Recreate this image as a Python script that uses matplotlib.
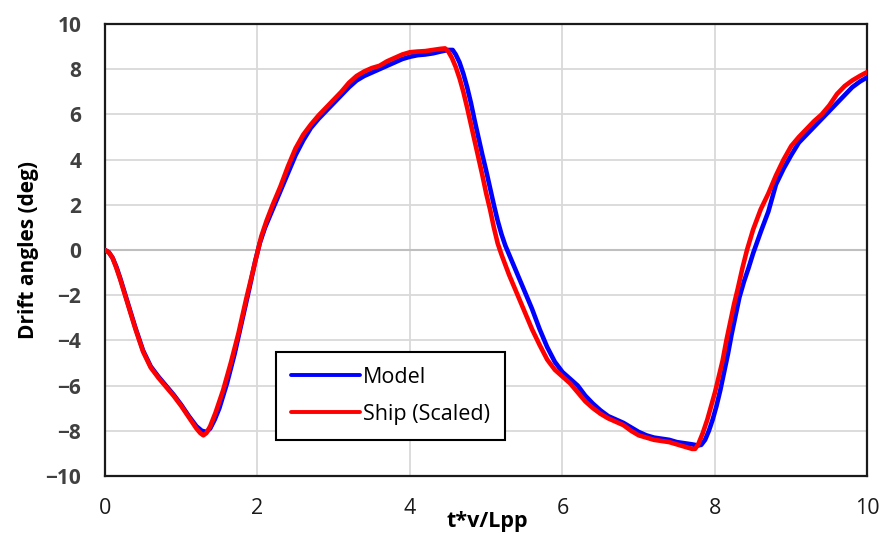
import matplotlib
matplotlib.use('Agg')
import matplotlib.pyplot as plt

# Drift angle time histories (x in t*v/Lpp, y in deg)
model_x = [0, 0.05, 0.1, 0.15, 0.2, 0.3, 0.4, 0.5, 0.6, 0.7, 0.8, 0.9, 1.0,
           1.1, 1.2, 1.27, 1.33, 1.38, 1.44, 1.5, 1.6, 1.7, 1.8, 1.9, 1.97,
           2.03, 2.1, 2.2, 2.3, 2.4, 2.5, 2.6, 2.7, 2.8, 2.9, 3.0, 3.1, 3.2,
           3.3, 3.4, 3.5, 3.6, 3.7, 3.8, 3.9, 4.0, 4.1, 4.2, 4.3, 4.4, 4.5,
           4.56, 4.6, 4.65, 4.7, 4.75, 4.8, 4.85, 4.9, 4.95, 5.0, 5.05, 5.1,
           5.15, 5.2, 5.25, 5.3, 5.4, 5.5, 5.6, 5.7, 5.8, 5.9, 6.0, 6.1, 6.2,
           6.3, 6.4, 6.5, 6.6, 6.7, 6.8, 6.9, 7.0, 7.1, 7.2, 7.3, 7.4, 7.5,
           7.6, 7.7, 7.78, 7.82, 7.87, 7.92, 7.97, 8.02, 8.07, 8.12, 8.17,
           8.22, 8.27, 8.32, 8.38, 8.44, 8.5, 8.6, 8.7, 8.8, 8.9, 9.0, 9.1,
           9.2, 9.3, 9.4, 9.5, 9.6, 9.7, 9.8, 9.9, 10.0]
model_y = [0, -0.1, -0.35, -0.75, -1.25, -2.35, -3.45, -4.45, -5.15, -5.6,
           -6.0, -6.4, -6.85, -7.35, -7.8, -8.0, -8.05, -7.9, -7.5, -7.0,
           -5.9, -4.6, -3.1, -1.6, -0.5, 0.3, 1.0, 1.8, 2.6, 3.4, 4.2, 4.85,
           5.4, 5.8, 6.15, 6.5, 6.85, 7.2, 7.5, 7.7, 7.85, 8.0, 8.15, 8.3,
           8.45, 8.55, 8.62, 8.65, 8.7, 8.78, 8.85, 8.85, 8.65, 8.3, 7.8, 7.2,
           6.5, 5.7, 4.95, 4.2, 3.5, 2.75, 2.0, 1.3, 0.7, 0.2, -0.2, -1.0,
           -1.8, -2.6, -3.5, -4.3, -4.95, -5.4, -5.7, -6.0, -6.45, -6.8, -7.1,
           -7.35, -7.5, -7.65, -7.85, -8.05, -8.2, -8.3, -8.35, -8.4, -8.5,
           -8.55, -8.6, -8.65, -8.62, -8.4, -8.0, -7.5, -6.9, -6.2, -5.4,
           -4.6, -3.7, -2.9, -2.1, -1.4, -0.8, -0.15, 0.8, 1.7, 2.9, 3.6,
           4.2, 4.75, 5.1, 5.45, 5.8, 6.15, 6.5, 6.85, 7.2, 7.45, 7.65]

ship_x = [0, 0.05, 0.1, 0.15, 0.2, 0.3, 0.4, 0.5, 0.6, 0.7, 0.8, 0.9, 1.0,
          1.1, 1.2, 1.25, 1.29, 1.33, 1.38, 1.45, 1.55, 1.65, 1.75, 1.85,
          1.95, 2.0, 2.05, 2.12, 2.2, 2.3, 2.4, 2.5, 2.6, 2.7, 2.8, 2.9, 3.0,
          3.1, 3.2, 3.3, 3.4, 3.5, 3.6, 3.7, 3.8, 3.9, 4.0, 4.1, 4.2, 4.3,
          4.4, 4.46, 4.5, 4.55, 4.6, 4.65, 4.7, 4.75, 4.8, 4.85, 4.9, 4.95,
          5.0, 5.05, 5.1, 5.15, 5.2, 5.3, 5.4, 5.5, 5.6, 5.7, 5.8, 5.9, 6.0,
          6.1, 6.2, 6.3, 6.4, 6.5, 6.6, 6.7, 6.8, 6.9, 7.0, 7.1, 7.2, 7.3,
          7.4, 7.5, 7.6, 7.7, 7.74, 7.78, 7.84, 7.9, 7.95, 8.0, 8.05, 8.1,
          8.15, 8.2, 8.25, 8.3, 8.36, 8.42, 8.5, 8.6, 8.7, 8.8, 8.9, 9.0,
          9.1, 9.2, 9.3, 9.4, 9.5, 9.6, 9.7, 9.8, 9.9, 10.0]
ship_y = [0, -0.1, -0.35, -0.8, -1.3, -2.4, -3.5, -4.5, -5.2, -5.65, -6.05,
          -6.45, -6.9, -7.4, -7.9, -8.1, -8.2, -8.1, -7.8, -7.2, -6.2, -5.0,
          -3.7, -2.2, -0.8, -0.1, 0.6, 1.3, 2.0, 2.8, 3.7, 4.5, 5.1, 5.55,
          5.95, 6.3, 6.65, 7.0, 7.4, 7.7, 7.9, 8.05, 8.15, 8.35, 8.5, 8.65,
          8.75, 8.78, 8.8, 8.85, 8.9, 8.92, 8.8, 8.5, 8.1, 7.6, 7.0, 6.3,
          5.55, 4.8, 4.05, 3.3, 2.5, 1.8, 1.0, 0.3, -0.2, -1.1, -1.9, -2.7,
          -3.5, -4.2, -4.85, -5.3, -5.6, -5.9, -6.3, -6.7, -7.0, -7.25, -7.45,
          -7.6, -7.75, -8.0, -8.2, -8.3, -8.4, -8.45, -8.5, -8.6, -8.7, -8.8,
          -8.8, -8.6, -8.1, -7.5, -6.9, -6.3, -5.6, -4.9, -4.0, -3.2, -2.4,
          -1.7, -0.8, 0.0, 0.9, 1.8, 2.5, 3.3, 4.0, 4.6, 5.0, 5.35, 5.7, 6.0,
          6.4, 6.9, 7.25, 7.5, 7.7, 7.88]

x_ticks = [0, 2, 4, 6, 8, 10]
y_ticks = [-10, -8, -6, -4, -2, 0, 2, 4, 6, 8, 10]

plt.rcParams['font.family'] = ['Open Sans', 'DejaVu Sans']
plt.rcParams['axes.unicode_minus'] = True

fig = plt.figure(figsize=(8.85, 5.4), dpi=100)
ax = fig.add_axes([0.1186, 0.1185, 0.8616, 0.8371])

ax.plot(model_x, model_y, color='#0000ff', lw=3.3, label='Model',
        solid_capstyle='round', solid_joinstyle='round', zorder=3)
ax.plot(ship_x, ship_y, color='#ff0000', lw=3.3, label='Ship (Scaled)',
        solid_capstyle='round', solid_joinstyle='round', zorder=4)

ax.set_xlim(0, 10)
ax.set_ylim(-10, 10)
ax.set_xticks(x_ticks)
ax.set_yticks(y_ticks)
ax.grid(color='#d9d9d9', lw=1.3)
ax.axhline(0, color='#bfbfbf', lw=1.5, zorder=2)
ax.set_axisbelow(True)
ax.tick_params(axis='x', length=0, labelsize=15.5, pad=16,
               labelcolor='#1a1a1a')
ax.tick_params(axis='y', length=0, labelsize=15, pad=17,
               labelcolor='#404040')
for lab in ax.get_yticklabels():
    lab.set_fontweight('bold')
for sp in ax.spines.values():
    sp.set_linewidth(1.6)
    sp.set_color('#1a1a1a')

ax.set_xlabel('t*v/Lpp', fontsize=15.5, fontweight='bold', va='center')
ax.xaxis.set_label_coords(0.502, -0.1)
ax.set_ylabel('Drift angles (deg)', fontsize=15, fontweight='bold',
              va='center')
ax.yaxis.set_label_coords(-0.1, 0.5)

leg = ax.legend(loc='lower left', bbox_to_anchor=(0.224, 0.08),
                borderaxespad=0, fontsize=15.5, fancybox=False,
                edgecolor='k', framealpha=1.0, handlelength=3.2,
                handletextpad=0.15, labelspacing=0.75, borderpad=0.7)
leg.get_frame().set_linewidth(1.5)
for line in leg.get_lines():
    line.set_linewidth(2.8)

fig.savefig('out.png', dpi=100)
